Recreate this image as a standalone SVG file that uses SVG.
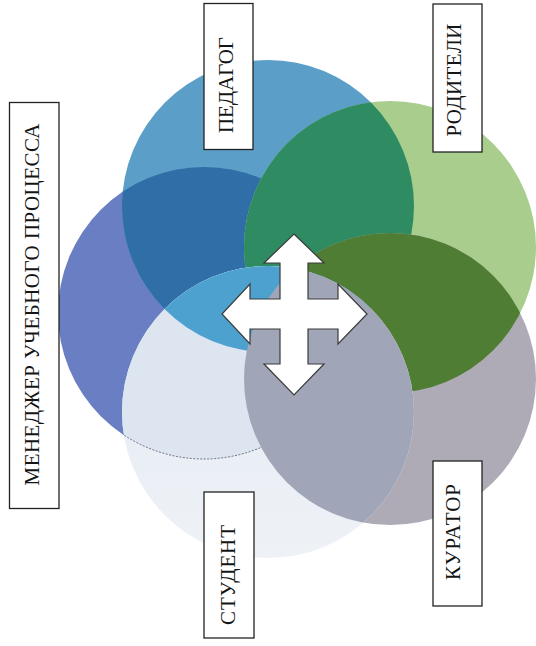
<svg xmlns="http://www.w3.org/2000/svg" width="536" height="646" viewBox="0 0 536 646">
<style>
.lbl rect{fill:#ffffff;stroke:#222222;stroke-width:1.3}
.lbl text{font-family:"Liberation Serif","Times New Roman",serif;font-size:21px;fill:#151515;text-anchor:middle}
</style>
<defs>
<clipPath id="cMan"><circle cx="204" cy="313" r="146"/></clipPath>
<clipPath id="cPed"><circle cx="268" cy="206" r="146"/></clipPath>
<clipPath id="cRod"><circle cx="390" cy="247" r="146"/></clipPath>
<clipPath id="cKur"><circle cx="390" cy="379" r="146"/></clipPath>
<clipPath id="cStu"><circle cx="268" cy="412" r="146"/></clipPath>
<linearGradient id="gStu" x1="0" y1="0" x2="0" y2="1">
<stop offset="0" stop-color="#e3e9f2"/>
<stop offset="1" stop-color="#eef2f7"/>
</linearGradient>
</defs>
<rect width="536" height="646" fill="#ffffff"/>

<g id="node-manager"><circle cx="204" cy="313" r="146" fill="#6a7ec3"/></g>
<g id="node-pedagog"><circle cx="268" cy="206" r="146" fill="#5b9ec8"/></g>
<g id="overlap-ped-man" clip-path="url(#cMan)"><circle cx="268" cy="206" r="146" fill="#2f6ea7"/></g>
<g id="node-roditeli"><circle cx="390" cy="247" r="146" fill="#a9cd8d"/></g>
<g id="overlap-rod-ped" clip-path="url(#cPed)"><circle cx="390" cy="247" r="146" fill="#2e8b62"/></g>
<g id="node-kurator"><circle cx="390" cy="379" r="146" fill="#aeabb7"/></g>
<g id="overlap-kur-rod" clip-path="url(#cRod)"><circle cx="390" cy="379" r="146" fill="#4f7d33"/></g>
<g id="node-student"><circle cx="268" cy="412" r="146" fill="url(#gStu)"/></g>
<g id="overlap-stu-man" clip-path="url(#cStu)">
<circle cx="204" cy="313" r="146" fill="#dde5f0"/>
<circle cx="204" cy="313" r="146" fill="none" stroke="#3c3f55" stroke-width="1" stroke-dasharray="2 1.5" opacity="0.7"/>
</g>
<g id="overlap-stu-ped" clip-path="url(#cStu)"><circle cx="268" cy="206" r="146" fill="#4ca1cf"/></g>
<g id="overlap-stu-kur" clip-path="url(#cStu)"><circle cx="390" cy="379" r="146" fill="#a0a6b8"/></g>

<g id="connectors">
<polygon points="294,234 324,263 308,263 308,299 338,299 338,284 367,314 338,344 338,329 308,329 308,364 324,364 294,395 264,364 280,364 280,329 250,329 250,344 222,314 250,284 250,299 280,299 280,263 264,263" fill="#ffffff" stroke="#3a3a3a" stroke-width="1.2" stroke-linejoin="miter"/>
</g>

<g id="label-manager" class="lbl">
<rect x="9.5" y="102.5" width="49.5" height="406"/>
<text transform="translate(38.5,304.5) rotate(-90)" textLength="362">МЕНЕДЖЕР УЧЕБНОГО ПРОЦЕССА</text>
</g>
<g id="label-pedagog" class="lbl">
<rect x="204" y="3.5" width="49" height="146"/>
<text transform="translate(233,85) rotate(-90)" textLength="96">ПЕДАГОГ</text>
</g>
<g id="label-roditeli" class="lbl">
<rect x="433" y="4" width="49" height="148"/>
<text transform="translate(461,80) rotate(-90)" textLength="113">РОДИТЕЛИ</text>
</g>
<g id="label-student" class="lbl">
<rect x="204" y="492" width="50" height="146"/>
<text transform="translate(235,575) rotate(-90)" textLength="100">СТУДЕНТ</text>
</g>
<g id="label-kurator" class="lbl">
<rect x="433" y="461" width="49" height="145"/>
<text transform="translate(460,532) rotate(-90)" textLength="96">КУРАТОР</text>
</g>
</svg>
